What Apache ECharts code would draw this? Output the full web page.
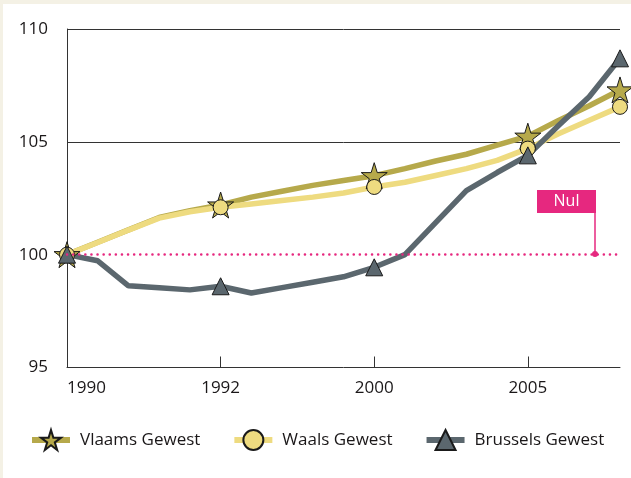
<!DOCTYPE html>
<html>
<head>
<meta charset="utf-8">
<script src="https://cdn.jsdelivr.net/npm/echarts@6/dist/echarts.min.js"></script>
<style>
  html, body { margin: 0; padding: 0; background: #f4f1e5; }
  #main { position: absolute; left: 3px; top: 4px; width: 628px; height: 474px; background: #fff; }
</style>
</head>
<body>
<div id="main"></div>
<script>
// x positions (one per year step), only some carry a label
var xLabels = ['1990', '', '', '', '', '1992', '', '', '', '', '2000', '', '', '', '', '2005', '', '', ''];
var markerIdx = [0, 5, 10, 15, 18];

var vlaams = [100, 100.55, 101.1, 101.65, 101.95, 102.2, 102.55, 102.81, 103.07, 103.29, 103.5,
              103.81, 104.15, 104.45, 104.85, 105.25, 105.95, 106.6, 107.3];
var waals = [100, 100.54, 101.09, 101.62, 101.9, 102.1, 102.25, 102.4, 102.55, 102.73, 103.0,
             103.21, 103.51, 103.81, 104.18, 104.7, 105.36, 105.96, 106.55];
var brussels = [100, 99.73, 98.62, 98.53, 98.44, 98.6, 98.3, 98.54, 98.78, 99.02, 99.44,
                100.0, 101.42, 102.84, 103.64, 104.4, 105.72, 107.0, 108.7];

var yTicks = { min: 95, max: 110, step: 5 };

var star = 'path://M50,0L61.17,34.63L97.55,34.55L68.07,55.87L79.39,90.45L50,69L20.61,90.45L31.93,55.87L2.45,34.55L38.83,34.63Z';
var txt = '#1a1718';
var font = 'Open Sans';

function markers(values) {
    return values.map(function (v, i) {
        return markerIdx.indexOf(i) >= 0 ? v : { value: v, symbol: 'none' };
    });
}

function makeSeries(name, values, color, symbol, size) {
    return {
        name: name,
        type: 'line',
        data: markers(values),
        symbol: symbol,
        symbolSize: size,
        showAllSymbol: true,
        lineStyle: { color: color, width: 5.5 },
        itemStyle: { color: color, borderColor: '#1a1a1a', borderWidth: 1 },
        emphasis: { disabled: true }
    };
}

var myChart = echarts.init(document.getElementById('main'));
var series = [
    makeSeries('Vlaams Gewest', vlaams, '#b6a94b', star, 26),
    makeSeries('Waals Gewest', waals, '#eedb80', 'circle', 15),
    makeSeries('Brussels Gewest', brussels, '#5b676e', 'triangle', 17)
];
// pink "Nul" reference line at 100
series[0].markLine = {
    silent: true,
    symbol: 'none',
    label: { show: false },
    lineStyle: { color: '#e6287f', width: 2.5, type: [0.1, 6], cap: 'round' },
    data: [{ yAxis: 100 }]
};

option = {
    animation: false,
    grid: { left: 64, right: 11, top: 25, bottom: 110.5 },
    xAxis: {
        type: 'category',
        data: xLabels,
        boundaryGap: false,
        axisLine: { lineStyle: { color: '#333', width: 1 } },
        axisTick: { inside: true, length: 11, interval: 4, lineStyle: { color: '#333' } },
        axisLabel: {
            interval: 4, margin: 12, color: txt, fontSize: 17, fontFamily: font,
            alignMinLabel: 'left'
        },
        splitLine: { show: false }
    },
    yAxis: {
        type: 'value',
        min: yTicks.min,
        max: yTicks.max,
        interval: yTicks.step,
        axisLine: { show: true, lineStyle: { color: '#333', width: 1 } },
        axisTick: { show: false },
        axisLabel: { margin: 19, color: txt, fontSize: 17, fontFamily: font },
        splitLine: { show: true, lineStyle: { color: ['rgba(0,0,0,0)', 'rgba(0,0,0,0)', '#333', '#333'], width: 1 } }
    },
    legend: {
        left: 21,
        top: 420,
        itemWidth: 38,
        itemHeight: 25,
        itemGap: 31,
        lineStyle: { width: 6 },
        textStyle: { color: txt, fontSize: 17, fontFamily: font, padding: [0, 0, 0, 5] },
        data: [
            'Vlaams Gewest',
            { name: 'Waals Gewest', textStyle: { padding: [0, 8, 0, 5] } },
            'Brussels Gewest'
        ]
    },
    graphic: [
        { type: 'line', shape: { x1: 592, y1: 186, x2: 592, y2: 250 }, style: { stroke: '#e6287f', lineWidth: 1.5 } },
        { type: 'circle', shape: { cx: 592, cy: 250, r: 3 }, style: { fill: '#e6287f' } },
        { type: 'rect', shape: { x: 534, y: 186, width: 59, height: 23 }, style: { fill: '#e6287f' } },
        {
            type: 'text', x: 563.5, y: 197.5,
            style: { text: 'Nul', fill: '#fff', fontSize: 16, fontFamily: font, align: 'center', verticalAlign: 'middle' }
        }
    ],
    series: series
};

myChart.setOption(option);
window.addEventListener("resize", function () {
    myChart.resize();
});
</script>
</body>
</html>
